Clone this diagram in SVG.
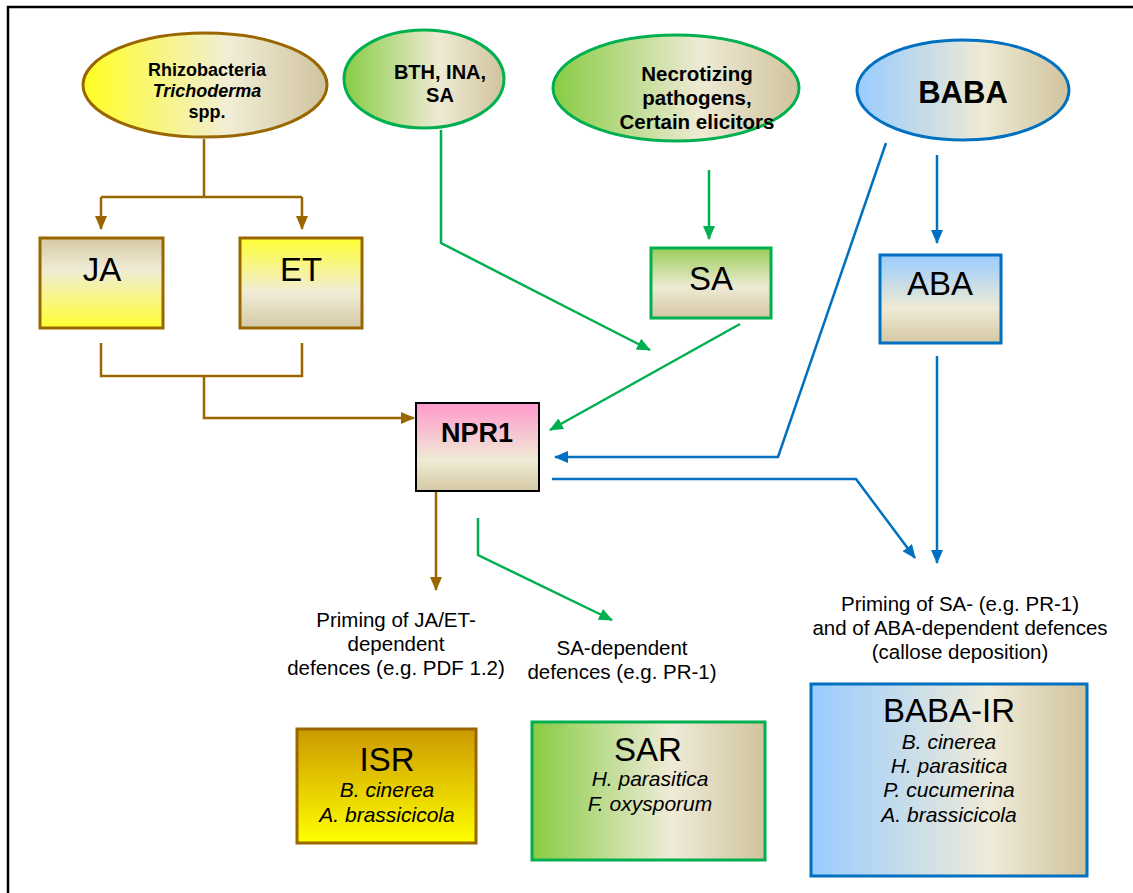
<svg xmlns="http://www.w3.org/2000/svg" width="1133" height="893" viewBox="0 0 1133 893">
<defs>
<linearGradient id="gEllY" x1="0" y1="0" x2="1" y2="0"><stop offset="0" stop-color="#FFFF22"/><stop offset="0.6" stop-color="#F1EDD6"/><stop offset="1" stop-color="#D0C39E"/></linearGradient>
<linearGradient id="gEllG" x1="0" y1="0" x2="1" y2="0"><stop offset="0" stop-color="#88CC44"/><stop offset="0.6" stop-color="#EEEAD4"/><stop offset="1" stop-color="#D0C39E"/></linearGradient>
<linearGradient id="gEllB" x1="0" y1="0" x2="1" y2="0"><stop offset="0" stop-color="#99CCFF"/><stop offset="0.6" stop-color="#EEEAD4"/><stop offset="1" stop-color="#D0C39E"/></linearGradient>
<linearGradient id="gJA" x1="0" y1="0" x2="0" y2="1"><stop offset="0" stop-color="#D4C8A4"/><stop offset="0.35" stop-color="#F0ECD6"/><stop offset="1" stop-color="#FFFF33"/></linearGradient>
<linearGradient id="gET" x1="0" y1="0" x2="0" y2="1"><stop offset="0" stop-color="#FFFF33"/><stop offset="0.6" stop-color="#F0ECD6"/><stop offset="1" stop-color="#D4C8A4"/></linearGradient>
<linearGradient id="gSA" x1="0" y1="0" x2="0" y2="1"><stop offset="0" stop-color="#99CC55"/><stop offset="0.55" stop-color="#EEEAD4"/><stop offset="1" stop-color="#D4C8A4"/></linearGradient>
<linearGradient id="gABA" x1="0" y1="0" x2="0" y2="1"><stop offset="0" stop-color="#99CCFF"/><stop offset="0.6" stop-color="#EEEAD4"/><stop offset="1" stop-color="#D4C8A4"/></linearGradient>
<linearGradient id="gNPR" x1="0" y1="0" x2="0" y2="1"><stop offset="0" stop-color="#FF99CC"/><stop offset="0.65" stop-color="#EFEBD5"/><stop offset="1" stop-color="#D4C8A4"/></linearGradient>
<linearGradient id="gISR" x1="0" y1="0" x2="0" y2="1"><stop offset="0" stop-color="#CC9900"/><stop offset="1" stop-color="#FFFF00"/></linearGradient>
<linearGradient id="gSAR" x1="0" y1="0" x2="1" y2="0"><stop offset="0" stop-color="#88CC44"/><stop offset="0.6" stop-color="#EFEBD8"/><stop offset="1" stop-color="#D0C39E"/></linearGradient>
<linearGradient id="gBIR" x1="0" y1="0" x2="1" y2="0"><stop offset="0" stop-color="#99CCFF"/><stop offset="0.65" stop-color="#EFEBD8"/><stop offset="1" stop-color="#D0C39E"/></linearGradient>
<marker id="aBr" markerWidth="14" markerHeight="12" refX="13" refY="6" orient="auto" markerUnits="userSpaceOnUse"><path d="M0,0 L14,6 L0,12 Z" fill="#996600"/></marker>
<marker id="aGr" markerWidth="14" markerHeight="12" refX="13" refY="6" orient="auto" markerUnits="userSpaceOnUse"><path d="M0,0 L14,6 L0,12 Z" fill="#00B050"/></marker>
<marker id="aBl" markerWidth="14" markerHeight="12" refX="13" refY="6" orient="auto" markerUnits="userSpaceOnUse"><path d="M0,0 L14,6 L0,12 Z" fill="#0070C0"/></marker>
</defs>
<style>
text{font-family:"Liberation Sans",Arial,sans-serif;fill:#000;text-anchor:middle}
.b{font-weight:bold}
.i{font-style:italic}
.br{stroke:#996600}
.gr{stroke:#00B050}
.bl{stroke:#0070C0}
.node{stroke-width:3}
.c{fill:none;stroke-width:2.5}
.lbl{font-size:20.5px}
.sp{font-size:21px;font-style:italic}
.big{font-size:33px}
</style>
<rect width="1133" height="893" fill="#fff"/>
<path d="M8,893 V7 H1133" fill="none" stroke="#000" stroke-width="2.5"/>

<g id="connectors">
<path class="c br" d="M204,139 V197"/>
<path class="c br" d="M101,197 H302"/>
<path class="c br" d="M101,197 V229" marker-end="url(#aBr)"/>
<path class="c br" d="M302,197 V229" marker-end="url(#aBr)"/>
<path class="c br" d="M101,343 V376 H302 V343"/>
<path class="c br" d="M204,376 V418 H414" marker-end="url(#aBr)"/>
<path class="c br" d="M436,492 V590" marker-end="url(#aBr)"/>
<path class="c gr" d="M441,130 V243 L650,350" marker-end="url(#aGr)"/>
<path class="c gr" d="M709,170 V239" marker-end="url(#aGr)"/>
<path class="c gr" d="M740,324 L550,430" marker-end="url(#aGr)"/>
<path class="c gr" d="M478,518 V555 L612,620" marker-end="url(#aGr)"/>
<path class="c bl" d="M886,143 L778,457 H555" marker-end="url(#aBl)"/>
<path class="c bl" d="M937,155 V243" marker-end="url(#aBl)"/>
<path class="c bl" d="M937,356 V563" marker-end="url(#aBl)"/>
<path class="c bl" d="M552,479 H856 L915,558" marker-end="url(#aBl)"/>
</g>

<g id="rhizobacteria">
<ellipse cx="205" cy="85" rx="122" ry="52" fill="url(#gEllY)" class="node br"/>
<text x="207" y="76" class="b" font-size="18">Rhizobacteria</text>
<text x="207" y="97" class="b i" font-size="18">Trichoderma</text>
<text x="207" y="118" class="b" font-size="18">spp.</text>
</g>
<g id="bth">
<ellipse cx="424" cy="79" rx="80" ry="49" fill="url(#gEllG)" class="node gr"/>
<text x="440" y="79" class="b" font-size="20">BTH, INA,</text>
<text x="440" y="102" class="b" font-size="20">SA</text>
</g>
<g id="necrotizing">
<ellipse cx="676" cy="88" rx="123" ry="53" fill="url(#gEllG)" class="node gr"/>
<text x="697" y="81" class="b" font-size="20.5">Necrotizing</text>
<text x="697" y="105" class="b" font-size="20.5">pathogens,</text>
<text x="697" y="129" class="b" font-size="20.5">Certain elicitors</text>
</g>
<g id="baba">
<ellipse cx="963" cy="90" rx="106" ry="50" fill="url(#gEllB)" class="node bl"/>
<text x="963" y="103" class="b" font-size="31">BABA</text>
</g>

<g id="ja">
<rect x="40" y="238" width="123" height="90" fill="url(#gJA)" class="node br"/>
<text x="102" y="281" class="big">JA</text>
</g>
<g id="et">
<rect x="240" y="238" width="122" height="90" fill="url(#gET)" class="node br"/>
<text x="301" y="281" class="big">ET</text>
</g>
<g id="sa">
<rect x="651" y="248" width="120" height="70" fill="url(#gSA)" class="node gr"/>
<text x="711" y="290" class="big">SA</text>
</g>
<g id="aba">
<rect x="880" y="255" width="121" height="88" fill="url(#gABA)" class="node bl"/>
<text x="940" y="295" class="big">ABA</text>
</g>
<g id="npr1">
<rect x="416" y="403" width="123" height="88" fill="url(#gNPR)" stroke="#000" stroke-width="2"/>
<text x="477" y="442" class="b" font-size="27">NPR1</text>
</g>

<g id="label-jaet">
<text x="396" y="627" class="lbl">Priming of JA/ET-</text>
<text x="396" y="651" class="lbl">dependent</text>
<text x="396" y="675" class="lbl">defences (e.g. PDF 1.2)</text>
</g>
<g id="label-sa">
<text x="622" y="655" class="lbl">SA-dependent</text>
<text x="622" y="679" class="lbl">defences (e.g. PR-1)</text>
</g>
<g id="label-baba">
<text x="960" y="611" class="lbl">Priming of SA- (e.g. PR-1)</text>
<text x="960" y="635" class="lbl">and of ABA-dependent defences</text>
<text x="960" y="659" class="lbl">(callose deposition)</text>
</g>

<g id="isr">
<rect x="297" y="729" width="179" height="114" fill="url(#gISR)" class="node br"/>
<text x="387" y="771" class="big">ISR</text>
<text x="387" y="797" class="sp">B. cinerea</text>
<text x="387" y="822" class="sp">A. brassicicola</text>
</g>
<g id="sar">
<rect x="532" y="722" width="233" height="138" fill="url(#gSAR)" class="node gr"/>
<text x="648" y="761" class="big">SAR</text>
<text x="650" y="786" class="sp">H. parasitica</text>
<text x="650" y="811" class="sp">F. oxysporum</text>
</g>
<g id="baba-ir">
<rect x="811" y="684" width="276" height="192" fill="url(#gBIR)" class="node bl"/>
<text x="949" y="722" class="big">BABA-IR</text>
<text x="949" y="749" class="sp">B. cinerea</text>
<text x="949" y="773" class="sp">H. parasitica</text>
<text x="949" y="797" class="sp">P. cucumerina</text>
<text x="949" y="822" class="sp">A. brassicicola</text>
</g>
</svg>
